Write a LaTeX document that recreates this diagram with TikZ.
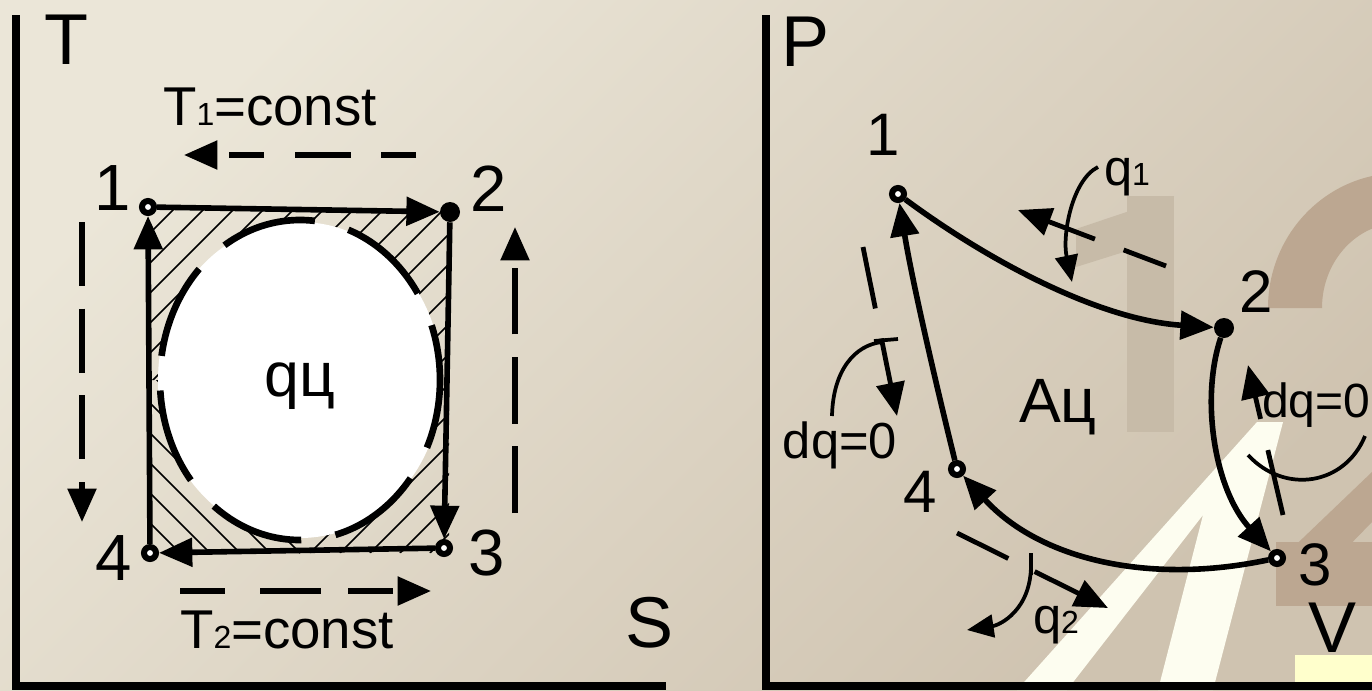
\documentclass[tikz,border=0pt]{standalone}
\usepackage{fontspec}
\setmainfont{Liberation Sans}
\usetikzlibrary{arrows.meta,calc,positioning}
\definecolor{bglys}{RGB}{235,230,216}
\definecolor{bgmork}{RGB}{207,195,176}
\definecolor{ener}{RGB}{199,187,168}
\definecolor{toer}{RGB}{188,167,145}
\definecolor{stripe}{RGB}{253,253,240}
\definecolor{gulfelt}{RGB}{255,255,204}
\newcommand{\indeks}[1]{{\fontsize{24}{24}\selectfont #1}}
\tikzset{
	>={Triangle[length=25pt,width=21pt]},
	punkt/.style={
		circle,
		draw=black, line width=4.5pt,
		fill=white,
		inner sep=0pt,
		minimum size=9pt},
	fpunkt/.style={
		circle,
		fill=black,
		inner sep=0pt,
		minimum size=15pt},
	pil/.style={
		->,
		line width=4.2pt},
	strek/.style={
		->,
		line width=4pt,
		dash pattern=#1},
	bue/.style={
		line width=2.8pt},
	skra/.style={
		line width=1.1pt},
	akse/.style={
		line width=6pt},
	tall/.style={
		font=\fontsize{#1}{#1}\selectfont,
		inner sep=0pt},
	tall/.default=49
}
\begin{document}
\begin{tikzpicture}[x=0.75pt,y=0.75pt,yscale=-1,xscale=1]
\clip (0,0) rectangle (1372,690);
\shade[top color=bglys, bottom color=bgmork, shading angle=45] (0,0) rectangle (1372,690);

% background marks
\fill[ener] (1127,196) rectangle (1174,432);
\fill[ener] (1174,196) -- (1076,229) -- (1076,267) -- (1127,251) -- cycle;
\fill[toer] (1268,308) arc[start angle=180,end angle=270,x radius=132,y radius=135] -- (1400,223) arc[start angle=270,end angle=180,x radius=78,y radius=85] -- cycle;
\fill[toer] (1276,542) rectangle (1372,606);
\fill[toer] (1280,560) -- (1372,472) -- (1372,522) -- (1335,560) -- cycle;
\fill[stripe] (1017,690) -- (1257,422) -- (1283,422) -- (1213,690) -- (1158,690) -- (1203,515) -- (1067,690) -- cycle;
\fill[gulfelt] (1295,655) rectangle (1372,690);

% axes
\draw[akse] (16,15) -- (16,686) -- (666,686);
\draw[akse] (766,15) -- (766,686) -- (1372,686);
\node[tall=54] (ta) at (66,40) {T};
\node[tall=54] (sa) at (650,623) {S};
\node[tall=54] (pa) at (806,42) {P};
\node[tall=54] (va) at (1333,628) {V};

% T-S: hatching
\begin{scope}
\clip (150,209) -- (449,209) -- (449,553) -- (300,553) -- (300,380) -- (150,380) -- cycle;
\foreach \k in {0,...,24}
	\draw[skra] ($(-260,553)+(\k*30,0)$) -- ++(400,-400);
\end{scope}
\begin{scope}
\clip (150,380) rectangle (300,553);
\foreach \k in {0,...,12}
	\draw[skra] ($(150,553)+(\k*30,0)$) -- ++(-300,-300);
\end{scope}
\fill[white] (300,380) ellipse [x radius=142, y radius=158];
\draw[line width=5pt, dash pattern=on 72pt off 26pt, dash phase=20pt] (300,380) ellipse [x radius=140, y radius=160];
\node[tall=47] (qc) at (300,386) {qц};

% T-S: cycle
\node[punkt] (a1) at (148,207) {};
\node[fpunkt] (a2) at (450,212) {};
\node[punkt] (a3) at (444,548) {};
\node[punkt] (a4) at (150,553) {};
\draw[pil] (a1) -- (a2);
\draw[pil] (a2) -- (a3);
\draw[pil] (a3) -- (a4);
\draw[pil] (a4) -- (a1);
\node[tall] (n1) at (113,188) {1};
\node[tall] (n2) at (489,189) {2};
\node[tall] (n3) at (487,553) {3};
\node[tall] (n4) at (114,558) {4};

% T-S: heat flows
\coordinate (h1a) at (416,155);
\coordinate (h1b) at (184,155);
\coordinate (h2a) at (82,222);
\coordinate (h2b) at (82,522);
\coordinate (h3a) at (515,513);
\coordinate (h3b) at (515,227);
\coordinate (h4a) at (180,591);
\coordinate (h4b) at (431,591);
\draw[strek={on 26pt off 23pt on 42pt off 23pt}] (h1a) -- (h1b);
\draw[strek={on 48pt off 17pt}] (h2a) -- (h2b);
\draw[strek={on 50pt off 17pt}] (h3a) -- (h3b);
\draw[strek={on 34pt off 26pt on 46pt off 20pt}] (h4a) -- (h4b);
\node[tall=41] (t1) at (270,107) {T\indeks{1}=const};
\node[tall=41] (t2) at (287,630) {T\indeks{2}=const};

% P-V: cycle
\node[punkt] (b1) at (898,194) {};
\node[fpunkt] (b2) at (1224,328) {};
\node[punkt] (b3) at (1277,558) {};
\node[punkt] (b4) at (957,469) {};
\draw[pil] (b1) .. controls (990,262) and (1100,320) .. (b2);
\draw[pil] (b2) .. controls (1200,400) and (1215,490) .. (b3);
\draw[pil] (b3) .. controls (1150,585) and (1040,560) .. (b4);
\draw[pil] (b4) .. controls (935,380) and (912,280) .. (b1);
\node[tall=45] (m1) at (883,135) {1};
\node[tall=45] (m2) at (1256,292) {2};
\node[tall=45] (m3) at (1315,565) {3};
\node[tall=45] (m4) at (920,492) {4};
\node[tall=47] (ac) at (1058,407) {Aц};

% P-V: heat flows
\coordinate (k1a) at (1166,266);
\coordinate (k1b) at (1018,210);
\coordinate (k2a) at (863,247);
\coordinate (k2b) at (897,416);
\coordinate (k3a) at (957,533);
\coordinate (k3b) at (1108,608);
\coordinate (k4a) at (1283,515);
\coordinate (k4b) at (1248,365);
\draw[strek={on 34pt off 23pt on 200pt}, line width=3.6pt] (k1a) -- (k1b);
\draw[strek={on 47pt off 23pt on 200pt}, line width=3.6pt] (k2a) -- (k2b);
\draw[strek={on 43pt off 22pt on 200pt}, line width=3.6pt] (k3a) -- (k3b);
\draw[strek={on 50pt off 24pt on 200pt}, line width=3.6pt] (k4a) -- (k4b);
\draw[bue, -{Triangle[length=20pt,width=17pt]}] (1098,167) .. controls (1072,180) and (1062,235) .. (1072,282);
\draw[bue] (832,416) .. controls (833,370) and (855,345) .. (882,342);
\draw[bue] (874,341) -- (898,339);
\draw[bue, -{Triangle[length=20pt,width=17pt]}] (1031,565) .. controls (1031,610) and (1000,625) .. (967,630);
\draw[bue] (1031,553) -- (1031,575);
\draw[bue] (1365,436) .. controls (1345,485) and (1285,495) .. (1248,455);
\node[tall=38] (q1) at (1127,177) {q\indeks{1}};
\node[tall=38] (q2) at (1056,625) {q\indeks{2}};
\node[tall=38] (d1) at (840,445) {dq=0};
\node[tall=36, anchor=west] (d2) at (1262,405) {dq=0};
\end{tikzpicture}
\end{document}
